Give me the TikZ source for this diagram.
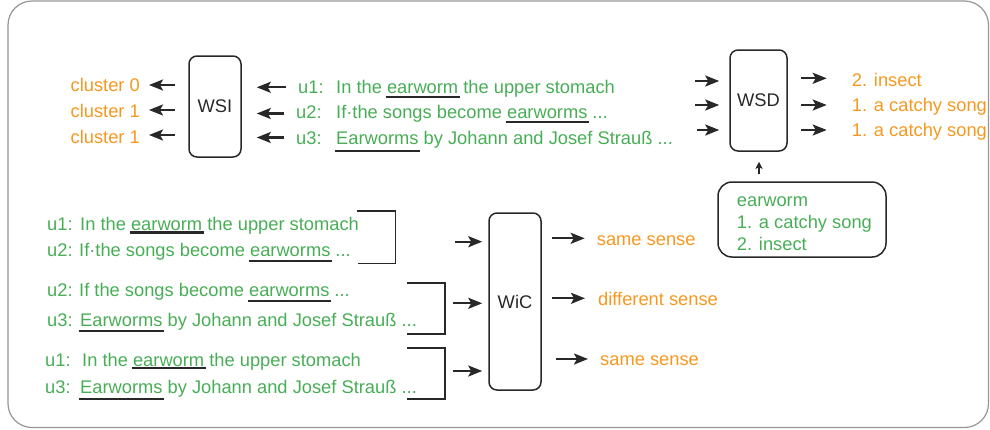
\documentclass[tikz,border=0pt]{standalone}
\usepackage{fontspec}
\setmainfont{Liberation Sans}
\usetikzlibrary{arrows.meta}

\definecolor{lblorange}{RGB}{246,152,32}
\definecolor{txtgreen}{RGB}{72,174,86}
\definecolor{framegray}{RGB}{150,150,150}
\definecolor{inkgray}{RGB}{40,40,40}

% underlined target word: #1 = distance of the rule below the baseline
\newcommand{\uword}[2][5]{%
  \setbox0\hbox{#2}%
  \rlap{\kern-1.5pt\textcolor{inkgray}{\rule[-#1pt]{\dimexpr\wd0+3pt\relax}{2.2pt}}}%
  \box0\relax}

\tikzset{
  txt/.style={inner sep=0pt, anchor=base west, font=\fontsize{18.3}{22}\selectfont},
  greenlbl/.style={txt, text=txtgreen},
  orangelbl/.style={txt, text=lblorange},
  model/.style={draw=inkgray, line width=1.5pt, rounded corners=8pt, inner sep=0pt,
    text=inkgray, font=\fontsize{18.3}{22}\selectfont},
  arr/.style={line width=2.3pt, inkgray, -{Stealth[length=14pt,width=11pt,inset=3pt]}},
  bracket/.style={line width=1.8pt, inkgray},
}

\begin{document}
\begin{tikzpicture}[x=1pt, y=-1pt]
\useasboundingbox (0,0) rectangle (990,429);

% outer frame
\draw[framegray, line width=1.2pt, rounded corners=24pt] (8,1) rectangle (988.5,427.5);

% ---------- word sense induction ----------
\node[model, minimum width=52pt, minimum height=101pt] (wsi) at (215,106.5) {WSI};

\node[orangelbl, anchor=base east] (cl0) at (140,91) {cluster 0};
\node[orangelbl, anchor=base east] (cl1) at (140,117) {cluster 1};
\node[orangelbl, anchor=base east] (cl2) at (140,143) {cluster 1};

\node[greenlbl] (a1) at (298,93.3) {u1:};
\node[greenlbl] (a2) at (296,118) {u2:};
\node[greenlbl] (a3) at (296,144.5) {u3:};
\node[greenlbl] (s1) at (336,93.3) {In the \uword[4.5]{earworm} the upper stomach};
\node[greenlbl] (s2) at (336,118) {If·the songs become \uword[5]{earworms} ...};
\node[greenlbl] (s3) at (336,144.5) {\uword[7.5]{Earworms} by Johann and Josef Strauß ...};

\foreach \y/\c in {85/cl0, 110/cl1, 135/cl2}
  \draw[arr, shorten <=13pt, shorten >=9pt] (wsi.west |- 0,\y) -- (\c.east |- 0,\y);
\foreach \y/\u in {87.3/a1, 113.5/a2, 137.5/a3}
  \draw[arr, shorten <=12pt, shorten >=15pt] (\u.west |- 0,\y) -- (wsi.east |- 0,\y);

% ---------- word sense disambiguation ----------
\node[model, minimum width=57pt, minimum height=101pt] (wsd) at (758.5,100.5) {WSD};

\coordinate (win1) at (695,81);
\coordinate (win2) at (695,105);
\coordinate (win3) at (697,130);
\foreach \c in {win1, win2, win3}
  \draw[arr, shorten >=10pt] (\c) -- (wsd.west |- \c);

\node[orangelbl] (d1) at (851.7,86.7) {2. insect};
\node[orangelbl] (d2) at (851.7,111.7) {1. a catchy song};
\node[orangelbl] (d3) at (851.7,136.7) {1. a catchy song};
\foreach \y/\d in {78.3/d1, 105/d2, 130/d3}
  \draw[arr, shorten <=13pt, shorten >=25pt] (wsd.east |- 0,\y) -- (\d.west |- 0,\y);

% sense inventory
\node[draw=inkgray, line width=1.5pt, rounded corners=14pt, inner sep=0pt,
      minimum width=168pt, minimum height=75pt] (inv) at (802,219.5) {};
\node[greenlbl] (e0) at (736.7,206.7) {earworm};
\node[greenlbl] (e1) at (736.7,228) {1. a catchy song};
\node[greenlbl] (e2) at (736.7,250) {2. insect};
\draw[line width=1.4pt, inkgray, -{Stealth[length=7pt,width=7pt,inset=1.5pt]},
      shorten <=7pt, shorten >=10pt] (inv.north -| 759,0) -- (wsd.south -| 759,0);

% ---------- word in context ----------
\node[model, minimum width=52pt, minimum height=177pt] (wic) at (515,301.5) {WiC};

\node[greenlbl] (p1a) at (47,230) {u1:};
\node[greenlbl] (p1s) at (80,230) {In the \uword[3.5]{earworm} the upper stomach};
\node[greenlbl] (p2a) at (47,256.7) {u2:};
\node[greenlbl] (p2s) at (79,256.7) {If·the songs become \uword[5.5]{earworms} ...};

\node[greenlbl] (q2a) at (47,296.7) {u2:};
\node[greenlbl] (q2s) at (79,296.7) {If the songs become \uword[5.5]{earworms} ...};
\node[greenlbl] (q3a) at (47,326.7) {u3:};
\node[greenlbl] (q3s) at (80,326.7) {\uword[5.5]{Earworms} by Johann and Josef Strauß ...};

\node[greenlbl] (r1a) at (45,366.7) {u1:};
\node[greenlbl] (r1s) at (82,366.7) {In the \uword[2.5]{earworm} the upper stomach};
\node[greenlbl] (r3a) at (45,393) {u3:};
\node[greenlbl] (r3s) at (80,393) {\uword[7]{Earworms} by Johann and Josef Strauß ...};

% pair brackets
\draw[bracket] (357,211) -| (395.5,263.5) -- (357.5,263.5);
\draw[bracket] (407,283) -| (445,334) -- (407,334);
\draw[bracket] (407,348) -| (445,399) -- (407,399);

\coordinate (pin1) at (455,241.7);
\coordinate (pin2) at (453,303.3);
\coordinate (pin3) at (453,371);
\foreach \c in {pin1, pin2, pin3}
  \draw[arr, shorten >=6pt] (\c) -- (wic.west |- \c);

\node[orangelbl] (w1) at (596.7,245) {same sense};
\node[orangelbl] (w2) at (598,305) {different sense};
\node[orangelbl] (w3) at (600,365) {same sense};
\draw[arr, shorten <=10pt, shorten >=12pt] (wic.east |- 0,238.3) -- (w1.west |- 0,238.3);
\draw[arr, shorten <=10pt, shorten >=13pt] (wic.east |- 0,298.3) -- (w2.west |- 0,298.3);
\draw[arr, shorten <=14pt, shorten >=12pt] (wic.east |- 0,359) -- (w3.west |- 0,359);
\end{tikzpicture}
\end{document}
